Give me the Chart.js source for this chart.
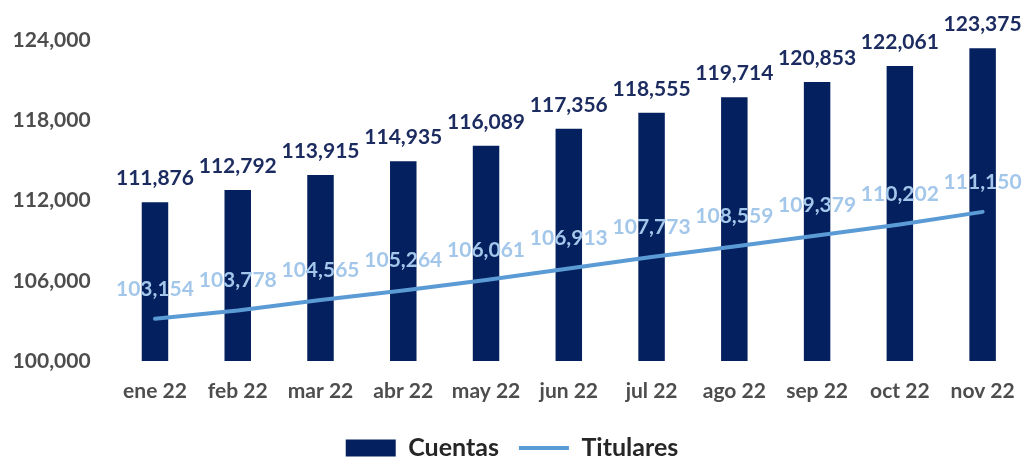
<!DOCTYPE html>
<html>
<head>
<meta charset="utf-8">
<script src="https://cdn.jsdelivr.net/npm/chart.js@4"></script>
<style>
  html, body { margin: 0; padding: 0; background: #ffffff; }
  #wrap { width: 1034px; height: 461px; position: relative; }
</style>
</head>
<body>
<div id="wrap"><canvas id="c" width="1034" height="461"></canvas></div>
<script>
const categories = ['ene 22', 'feb 22', 'mar 22', 'abr 22', 'may 22', 'jun 22', 'jul 22', 'ago 22', 'sep 22', 'oct 22', 'nov 22'];
const cuentas = [111876, 112792, 113915, 114935, 116089, 117356, 118555, 119714, 120853, 122061, 123375];
const titulares = [103154, 103778, 104565, 105264, 106061, 106913, 107773, 108559, 109379, 110202, 111150];
const yTicks = [100000, 106000, 112000, 118000, 124000];

const BAR_COLOR = '#04205e';
const BAR_LABEL = '#1c2c60';
const LINE_COLOR = '#5b9bd5';
const LINE_LABEL = '#a3c7ea';
const FONT = 'Lato, "Open Sans", sans-serif';

const fmt = v => v.toLocaleString('en-US');

const valueLabels = {
  id: 'valueLabels',
  afterDatasetsDraw(chart) {
    const ctx = chart.ctx;
    ctx.save();
    ctx.textAlign = 'center';
    ctx.textBaseline = 'middle';
    chart.data.datasets.forEach((ds, i) => {
      const meta = chart.getDatasetMeta(i);
      meta.data.forEach((el, j) => {
        if (ds.type === 'bar') {
          ctx.font = 'bold 21px ' + FONT;
          ctx.fillStyle = BAR_LABEL;
          ctx.fillText(fmt(ds.data[j]), el.x, el.y - 24);
        } else {
          ctx.font = 'bold 21px ' + FONT;
          ctx.fillStyle = LINE_LABEL;
          ctx.fillText(fmt(ds.data[j]), el.x, el.y - 30);
        }
      });
    });
    ctx.restore();
  }
};

new Chart(document.getElementById('c'), {
  data: {
    labels: categories,
    datasets: [
      {
        type: 'bar',
        label: 'Cuentas',
        data: cuentas,
        backgroundColor: BAR_COLOR,
        borderWidth: 0,
        barPercentage: 0.32,
        categoryPercentage: 1,
        pointStyle: 'rect',
        order: 1
      },
      {
        type: 'line',
        label: 'Titulares',
        data: titulares,
        borderColor: LINE_COLOR,
        backgroundColor: LINE_COLOR,
        borderWidth: 4,
        pointRadius: 0,
        pointStyle: 'line',
        borderCapStyle: 'round',
        tension: 0,
        order: 0
      }
    ]
  },
  options: {
    responsive: false,
    animation: false,
    layout: { padding: { top: 40, right: 10, left: 0, bottom: -9.5 } },
    plugins: {
      tooltip: { enabled: false },
      legend: {
        position: 'bottom',
        labels: {
          usePointStyle: true,
          pointStyleWidth: 50,
          boxHeight: 17,
          padding: 20,
          color: '#262626',
          font: { family: FONT, size: 25, weight: 'bold' },
          sort: (a, b) => a.datasetIndex - b.datasetIndex
        }
      }
    },
    scales: {
      x: {
        offset: true,
        grid: { display: false, drawTicks: false },
        border: { display: false },
        ticks: {
          padding: 18,
          color: '#4d4d4d',
          font: { family: FONT, size: 21, weight: 'bold' },
        },
        afterFit(scale) { scale.height = 54.5; }
      },
      y: {
        min: 100000,
        max: 124000,
        grid: { display: false, drawTicks: false },
        border: { display: false },
        afterBuildTicks(scale) { scale.ticks = yTicks.map(v => ({ value: v })); },
        ticks: {
          padding: 23,
          color: '#4d4d4d',
          font: { family: FONT, size: 21, weight: 'bold' },
          callback: v => fmt(v)
        },
        afterFit(scale) { scale.width = 113.6; }
      }
    }
  },
  plugins: [valueLabels]
});
</script>
</body>
</html>
